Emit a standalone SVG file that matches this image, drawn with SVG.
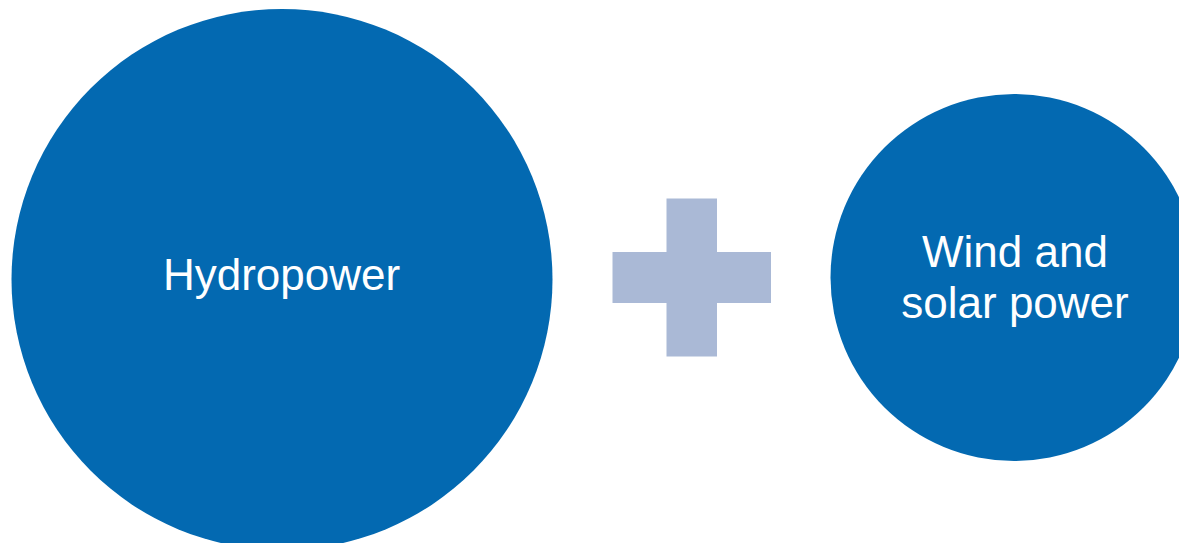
<svg xmlns="http://www.w3.org/2000/svg" width="1179" height="543" viewBox="0 0 1179 543">
<style>
.node{fill:#0369B1}
.lbl{fill:#FFFFFF;font-family:"Liberation Sans",Arial,sans-serif;font-size:44px;text-anchor:middle}
.plus{fill:#AAB9D6}
</style>
<rect width="1179" height="543" fill="#FFFFFF"/>
<g id="hydropower">
<circle class="node" cx="282" cy="279.5" r="270.5"/>
<text class="lbl" x="281.5" y="290">Hydropower</text>
</g>
<g id="plus">
<rect class="plus" x="666.5" y="198.5" width="50.5" height="158"/>
<rect class="plus" x="612.5" y="252" width="158.5" height="51"/>
</g>
<g id="wind-solar">
<circle class="node" cx="1014" cy="277.5" r="183.5"/>
<text class="lbl" x="1015" y="267">Wind and</text>
<text class="lbl" x="1015" y="318">solar power</text>
</g>
<g id="connectors"></g>
</svg>
